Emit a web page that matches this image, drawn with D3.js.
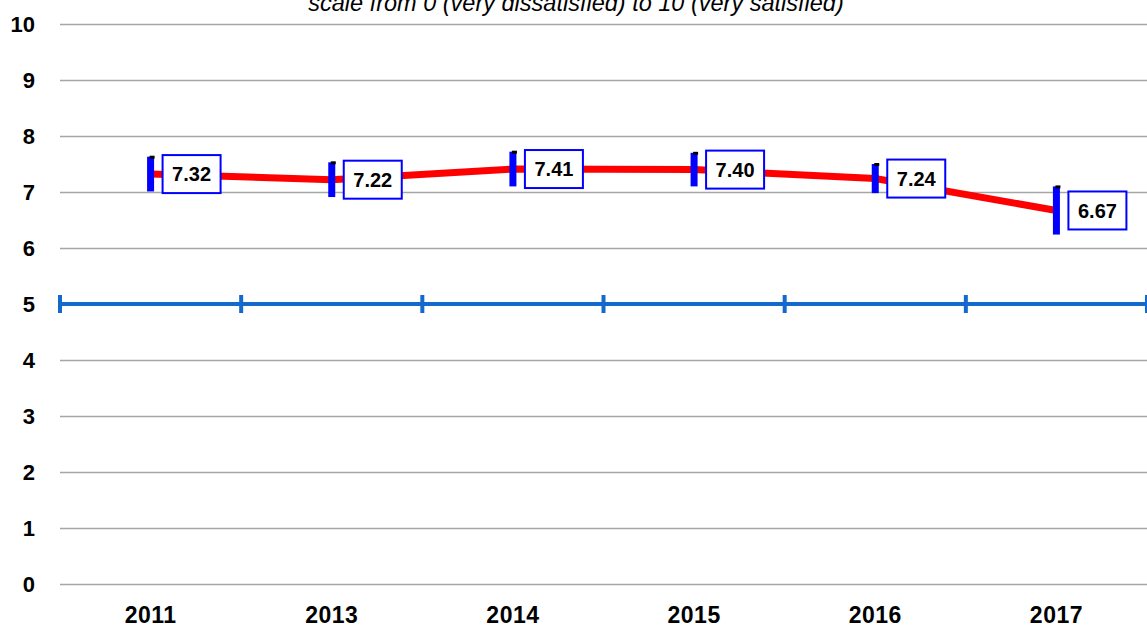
<!DOCTYPE html>
<html>
<head>
<meta charset="utf-8">
<script src="https://cdn.jsdelivr.net/npm/d3@7"></script>
<style>
  body { margin: 0; background: #fff; }
  text { font-family: "Liberation Sans", Arial, sans-serif; }
</style>
</head>
<body>
<div id="chart"></div>
<script>
var years = ["2011", "2013", "2014", "2015", "2016", "2017"];
var scores = [7.32, 7.22, 7.41, 7.40, 7.24, 6.67];
var errors = [0.31, 0.31, 0.31, 0.30, 0.26, 0.43];
var yTicks = [0, 1, 2, 3, 4, 5, 6, 7, 8, 9, 10];
var midline = 5;
var subtitle = "scale from 0 (very dissatisfied) to 10 (very satisfied)";

var width = 1147,
    height = 628,
    margin = {top: 24, right: 0, bottom: 44, left: 60};

var svg = d3.select("#chart").append("svg")
    .attr("width", width)
    .attr("height", height);

var x = d3.scaleBand()
    .domain(years)
    .range([margin.left, width - margin.right]);

var y = d3.scaleLinear()
    .domain([0, 10])
    .range([height - margin.bottom, margin.top]);

// gridlines + y labels
var yAxis = svg.append("g")
    .attr("transform", "translate(" + margin.left + ",0)")
    .call(d3.axisLeft(y).tickValues(yTicks).tickSize(-(width - margin.left - margin.right)).tickPadding(25).tickFormat(d3.format("d")));
yAxis.select(".domain").remove();
yAxis.selectAll(".tick line")
    .attr("stroke", "#a6a6a6")
    .attr("stroke-width", 1.5);
yAxis.selectAll(".tick text")
    .attr("font-size", "22px")
    .attr("font-weight", "bold")
    .attr("fill", "#000")
    .attr("font-family", "Liberation Sans, Arial, sans-serif");

// x labels
var xAxis = svg.append("g")
    .attr("transform", "translate(0," + (height - margin.bottom) + ")")
    .call(d3.axisBottom(x).tickSize(0));
xAxis.select(".domain").remove();
xAxis.selectAll(".tick text")
    .attr("y", 39)
    .attr("dy", 0)
    .attr("font-size", "23px")
    .attr("font-weight", "bold")
    .attr("letter-spacing", "0.5px")
    .attr("fill", "#000")
    .attr("font-family", "Liberation Sans, Arial, sans-serif");

// subtitle (cut off at top, as in the source)
svg.append("text")
    .text(subtitle)
    .attr("x", 576)
    .attr("y", 11)
    .attr("text-anchor", "middle")
    .attr("font-size", "23.5px")
    .attr("font-style", "italic")
    .attr("fill", "#000");

// blue reference line at 5 with tick marks at band edges
var refG = svg.append("g");
refG.append("line")
    .attr("x1", x.range()[0])
    .attr("x2", x.range()[1])
    .attr("y1", y(midline))
    .attr("y2", y(midline))
    .attr("stroke", "#1469cc")
    .attr("stroke-width", 4);
var edges = years.map(function(d){ return x(d); }).concat([x.range()[1]]);
refG.selectAll("line.edge")
    .data(edges)
    .enter().append("line")
    .attr("class", "edge")
    .attr("x1", function(d){ return d; })
    .attr("x2", function(d){ return d; })
    .attr("y1", y(midline) - 9)
    .attr("y2", y(midline) + 9)
    .attr("stroke", "#1469cc")
    .attr("stroke-width", 4);

var cx = function(d, i){ return x(years[i]) + x.bandwidth() / 2; };

// red line
var line = d3.line()
    .x(function(d, i){ return x(years[i]) + x.bandwidth() / 2; })
    .y(function(d){ return y(d); });

svg.append("path")
    .datum(scores)
    .attr("d", line)
    .attr("fill", "none")
    .attr("stroke", "#ff0000")
    .attr("stroke-width", 7);

// error bars
var errG = svg.append("g");
errG.selectAll("rect.err")
    .data(scores)
    .enter().append("rect")
    .attr("class", "err")
    .attr("x", function(d, i){ return cx(d, i) - 3.5; })
    .attr("y", function(d, i){ return y(d + errors[i]); })
    .attr("width", 7)
    .attr("height", function(d, i){ return y(d - errors[i]) - y(d + errors[i]); })
    .attr("fill", "#0000ff");
errG.selectAll("rect.cap")
    .data(scores)
    .enter().append("rect")
    .attr("class", "cap")
    .attr("x", function(d, i){ return cx(d, i) - 1; })
    .attr("y", function(d, i){ return y(d + errors[i]) - 1; })
    .attr("width", 5)
    .attr("height", 3)
    .attr("fill", "#000");

// value labels
var lab = svg.append("g").selectAll("g")
    .data(scores)
    .enter().append("g")
    .attr("transform", function(d, i){ return "translate(" + (cx(d, i) + 12) + "," + y(d) + ")"; });

lab.append("rect")
    .attr("x", 0)
    .attr("y", -19)
    .attr("width", 58)
    .attr("height", 38)
    .attr("fill", "#fff")
    .attr("stroke", "#0000ff")
    .attr("stroke-width", 2);

lab.append("text")
    .text(function(d){ return d.toFixed(2); })
    .attr("x", 29)
    .attr("y", 0)
    .attr("dy", "0.36em")
    .attr("text-anchor", "middle")
    .attr("font-size", "20px")
    .attr("font-weight", "bold")
    .attr("fill", "#000");
</script>
</body>
</html>
